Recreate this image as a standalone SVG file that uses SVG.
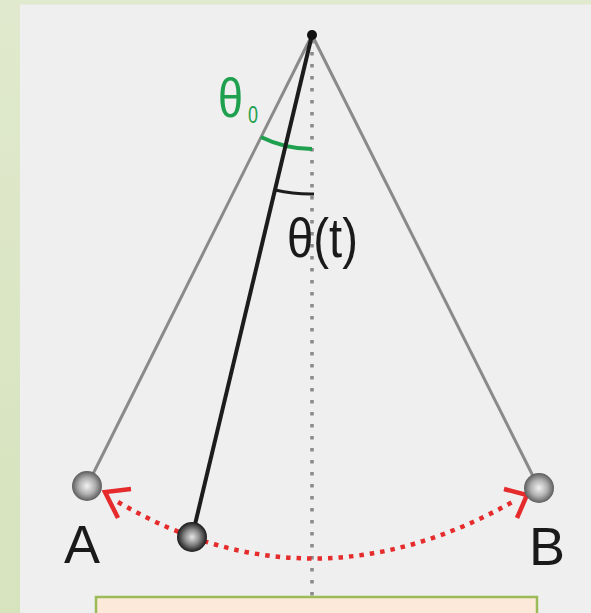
<svg xmlns="http://www.w3.org/2000/svg" width="591" height="613" viewBox="0 0 591 613">
  <defs>
    <linearGradient id="bgGrad" x1="0" y1="0" x2="0" y2="1">
      <stop offset="0" stop-color="#e0e9cd"/>
      <stop offset="1" stop-color="#d6e3bd"/>
    </linearGradient>
    <radialGradient id="ballLight" cx="0.5" cy="0.5" r="0.5">
      <stop offset="0" stop-color="#f2f2f2"/>
      <stop offset="0.55" stop-color="#b0b0b0"/>
      <stop offset="1" stop-color="#5c5c5c"/>
    </radialGradient>
    <radialGradient id="ballDark" cx="0.5" cy="0.5" r="0.5">
      <stop offset="0" stop-color="#e6e6e6"/>
      <stop offset="0.5" stop-color="#8a8a8a"/>
      <stop offset="1" stop-color="#1a1a1a"/>
    </radialGradient>
  </defs>
  <style>
    .rod-gray { stroke: #8a8a8a; stroke-width: 3; fill: none; }
    .rod-black { stroke: #1c1c1c; stroke-width: 4; fill: none; }
    .vert { stroke: #8a8a8a; stroke-width: 3.5; stroke-dasharray: 3.5 8.5; fill: none; }
    .swing { stroke: #e52b2b; stroke-width: 4.5; stroke-dasharray: 4.5 6; fill: none; }
    .arrowhead { stroke: #e52b2b; stroke-width: 4.5; fill: none; stroke-linejoin: miter; }
    .lbl { font-family: "Liberation Sans", Arial, sans-serif; fill: #1a1a1a; }
    .green { fill: #1fa04f; }
  </style>

  <rect x="0" y="0" width="591" height="613" fill="url(#bgGrad)"/>
  <rect x="20" y="4.5" width="571" height="608.5" fill="#efefef"/>

  <g id="connectors">
    <line class="vert" x1="312" y1="40" x2="312" y2="600"/>
    <line id="rod-a" class="rod-gray" x1="312" y1="35" x2="87" y2="486"/>
    <line id="rod-b" class="rod-gray" x1="312" y1="35" x2="539" y2="488"/>
    <path id="swing" class="swing" d="M 118 502 Q 312 616 516 500"/>
    <path class="arrowhead" d="M 131 489 L 105 492 L 118 518"/>
    <path class="arrowhead" d="M 504 489 L 527 495 L 517 518"/>
    <path id="arc-theta0" d="M 260.9 137 A 115 115 0 0 0 312 149" stroke="#1fa04f" stroke-width="4" fill="none"/>
    <path id="arc-theta" d="M 275 190 A 160 160 0 0 0 314 194" stroke="#1c1c1c" stroke-width="3" fill="none"/>
    <line id="rod-t" class="rod-black" x1="312" y1="35" x2="192" y2="537"/>
  </g>

  <g id="pivot"><circle cx="312" cy="35" r="5" fill="#111"/></g>
  <g id="ball-a"><circle cx="87" cy="486" r="15" fill="url(#ballLight)"/></g>
  <g id="ball-b"><circle cx="539" cy="488" r="15" fill="url(#ballLight)"/></g>
  <g id="ball-t"><circle cx="192" cy="537" r="15" fill="url(#ballDark)"/></g>

  <g id="label-theta0">
    <text class="lbl green" x="218" y="117" font-size="55" textLength="25" lengthAdjust="spacingAndGlyphs">θ</text>
    <text class="lbl green" x="248" y="123" font-size="23" textLength="10" lengthAdjust="spacingAndGlyphs">0</text>
  </g>
  <g id="label-theta">
    <text class="lbl" x="287" y="257" font-size="55" textLength="71" lengthAdjust="spacingAndGlyphs">θ(t)</text>
  </g>
  <g id="label-a"><text class="lbl" x="82" y="563" font-size="54" text-anchor="middle">A</text></g>
  <g id="label-b"><text class="lbl" x="547" y="565" font-size="54" text-anchor="middle">B</text></g>

  <g id="caption-box">
    <rect x="96" y="597" width="441" height="30" fill="#fde9d9" stroke="#9bbb59" stroke-width="2.5"/>
  </g>
</svg>
